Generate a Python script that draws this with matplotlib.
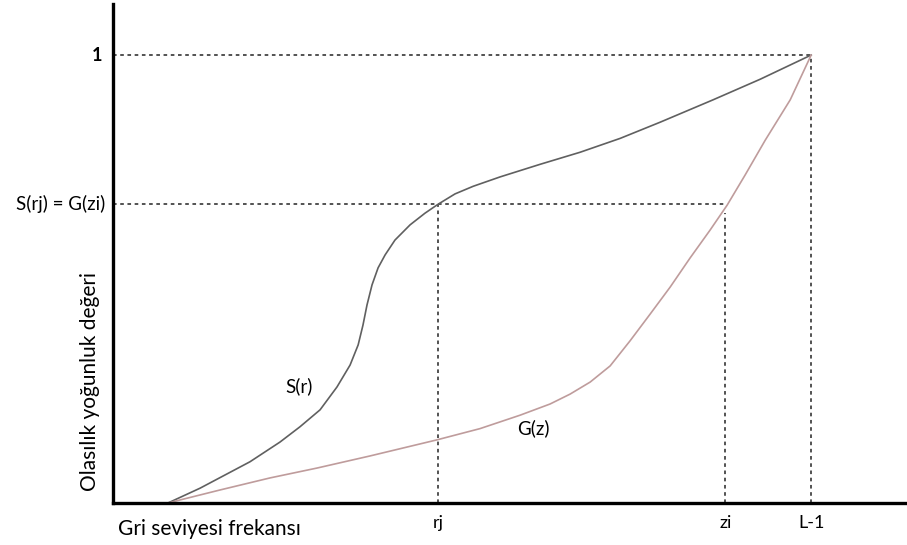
import matplotlib
matplotlib.use('Agg')
import matplotlib.pyplot as plt

plt.rcParams['font.family'] = ['Lato', 'DejaVu Sans']

# gri seviyesi (0..L-1 = 255) ve olasılık değerleri
L1 = 255
rj = 107
zi = 221
s_rj = 0.667

s_x = [0, 12.7, 32.5, 44.4, 52.3, 60.3, 67.0, 72.2, 75.4, 77.3, 78.9, 80.9, 83.3, 86.1,
       90.0, 96.0, 101.9, 107.1, 113.8, 121.0, 131.7, 147.5, 163.4, 179.3, 195.1,
       216.1, 234.8, 255]
s_y = [0, 0.033, 0.092, 0.136, 0.170, 0.208, 0.259, 0.308, 0.353, 0.397, 0.442, 0.487,
       0.525, 0.554, 0.587, 0.621, 0.647, 0.667, 0.690, 0.707, 0.728, 0.756, 0.783,
       0.814, 0.850, 0.900, 0.946, 1.0]

g_x = [0, 20.6, 40.5, 59.1, 80.1, 106.7, 123.7, 139.6, 151.5, 159.4, 167.4, 175.3,
       183.2, 191.2, 199.1, 207.0, 214.9, 221.7, 228.8, 236.8, 246.7, 255]
g_y = [0, 0.029, 0.056, 0.078, 0.105, 0.141, 0.166, 0.196, 0.221, 0.243, 0.270, 0.306,
       0.362, 0.422, 0.482, 0.547, 0.609, 0.665, 0.732, 0.810, 0.900, 1.0]

fig = plt.figure(figsize=(9.07, 5.45), dpi=100)
ax = fig.add_axes([0.1246, 0.0771, 0.8754, 0.9156])
ax.set_xlim(-21.8, 293)
ax.set_ylim(0, 1.114)

for side in ['top', 'right']:
    ax.spines[side].set_visible(False)
for side in ['left', 'bottom']:
    ax.spines[side].set_linewidth(2.4)
    ax.spines[side].set_color('black')
ax.set_xticks([])
ax.set_yticks([])

# kesikli yardımcı çizgiler
dash = dict(color='#444444', linewidth=1.3, linestyle=(0, (2, 2)))
ax.plot([-21.8, L1], [1, 1], **dash)
ax.plot([L1, L1], [0, 1], **dash)
ax.plot([-21.8, zi], [s_rj, s_rj], **dash)
ax.plot([rj, rj], [0, s_rj], **dash)
ax.plot([zi, zi], [0, s_rj - 0.02], **dash)

# eğriler
ax.plot(s_x, s_y, color='#606060', linewidth=1.2, solid_joinstyle='round')
ax.plot(g_x, g_y, color='#bf9c9c', linewidth=1.2, solid_joinstyle='round')

ax.text(52, 0.26, 'S(r)', fontsize=13.5, ha='center', va='center')
ax.text(145, 0.168, 'G(z)', fontsize=13.5, ha='center', va='center')

# eksen etiketleri
ax.text(-26, 1, '1', fontsize=13, fontweight='bold', ha='right', va='center')
ax.text(-25, s_rj, 'S(rj) = G(zi)', fontsize=13.5, ha='right', va='center')
for xv, lab in [(rj, 'rj'), (zi, 'zi'), (L1, 'L-1')]:
    ax.text(xv, -0.045, lab, fontsize=13, ha='center', va='center')

ax.text(-19.7, -0.058, 'Gri seviyesi frekansı', fontsize=15, ha='left', va='center')
ax.text(-31, 0.27, 'Olasılık yoğunluk değeri', fontsize=15, rotation=90,
        ha='center', va='center')

plt.savefig('out.png', dpi=100)
plt.close()
